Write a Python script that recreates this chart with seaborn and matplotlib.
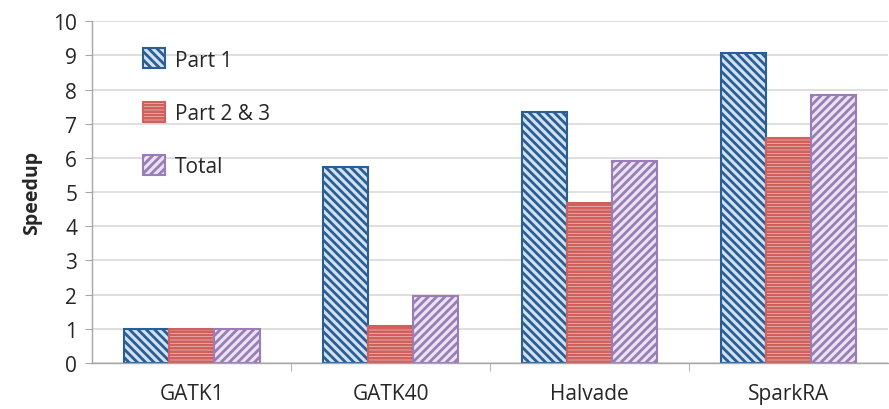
import matplotlib
matplotlib.use("Agg")
import matplotlib.pyplot as plt
import seaborn as sns
import pandas as pd
from matplotlib.patches import Patch

categories = ["GATK1", "GATK40", "Halvade", "SparkRA"]
series = ["Part 1", "Part 2 & 3", "Total"]
part1 = [1.0, 5.73, 7.33, 9.06]
part23 = [1.0, 1.07, 4.68, 6.58]
total = [1.0, 1.96, 5.9, 7.84]
yticks = list(range(0, 11))

edge_colors = ["#2A5F96", "#D0605C", "#9A7DB8"]
face_colors = ["#D3E1F1", "#F6DCDB", "#EAE3F1"]
hatches = ["\\\\\\\\", "-----", "////"]

rows = []
for s, vals in zip(series, [part1, part23, total]):
    for c, v in zip(categories, vals):
        rows.append({"Category": c, "Series": s, "Speedup": v})
df = pd.DataFrame(rows)

sns.set_style("white")
plt.rcParams["font.family"] = ["Open Sans", "DejaVu Sans"]
plt.rcParams["hatch.linewidth"] = 2.0

fig, ax = plt.subplots(figsize=(8.89, 4.10), dpi=100)
fig.subplots_adjust(left=0.104, right=0.999, top=0.946, bottom=0.112)

sns.barplot(data=df, x="Category", y="Speedup", hue="Series", order=categories,
            hue_order=series, ax=ax, width=0.68, legend=False,
            palette=face_colors, saturation=1)

n = len(categories)
for i, p in enumerate(ax.patches[:n * len(series)]):
    si = i // n
    p.set_facecolor(face_colors[si])
    p.set_edgecolor(edge_colors[si])
    p.set_hatch(hatches[si])
    p.set_linewidth(1.5)

ax.set_ylim(0, 10)
ax.set_yticks(yticks)
ax.set_xlim(-0.5, n - 0.5)
ax.yaxis.grid(True, color="#D9D9D9", linewidth=1.2)
ax.set_axisbelow(True)
for side in ["top", "right"]:
    ax.spines[side].set_visible(False)
for side in ["left", "bottom"]:
    ax.spines[side].set_color("#A6A6A6")
    ax.spines[side].set_linewidth(1.0)

ax.tick_params(axis="y", which="major", length=5, color="#A6A6A6", labelsize=15, pad=6, left=True)
ax.set_xticks(range(n))
ax.set_xticklabels(categories, fontsize=15)
ax.tick_params(axis="x", which="major", length=0, pad=14)
ax.set_xticks([i + 0.5 for i in range(n - 1)], minor=True)
ax.tick_params(axis="x", which="minor", length=6, color="#A6A6A6", bottom=True)

ax.set_xlabel("")
ax.set_ylabel("Speedup", fontsize=14, fontweight="bold", labelpad=8)

handles = [Patch(facecolor=face_colors[i], edgecolor=edge_colors[i], hatch=hatches[i],
                 linewidth=1.5, label=series[i]) for i in range(3)]
ax.legend(handles=handles, loc="upper left", bbox_to_anchor=(0.04, 0.975), frameon=False,
          fontsize=15, handlelength=1.05, handleheight=1.1, labelspacing=1.5,
          handletextpad=0.5)

fig.savefig("out.png", dpi=100)
